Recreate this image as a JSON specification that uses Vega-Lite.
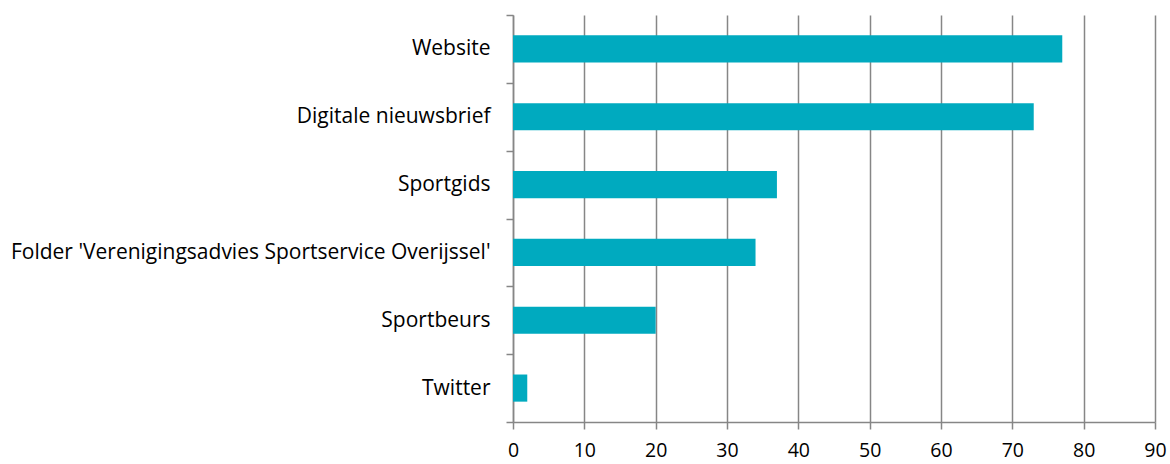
{
  "$schema": "https://vega.github.io/schema/vega-lite/v6.json",
  "autosize": "none",
  "width": 642,
  "height": 407,
  "padding": {"left": 513, "top": 15, "right": 15, "bottom": 42},
  "background": "white",
  "config": {"view": {"stroke": null}, "font": "Open Sans"},
  "data": {
    "values": [
      {"bron": "Website", "waarde": 77},
      {"bron": "Digitale nieuwsbrief", "waarde": 73},
      {"bron": "Sportgids", "waarde": 37},
      {"bron": "Folder 'Verenigingsadvies Sportservice Overijssel'", "waarde": 34},
      {"bron": "Sportbeurs", "waarde": 20},
      {"bron": "Twitter", "waarde": 2}
    ]
  },
  "mark": {"type": "bar", "color": "#00AABF", "height": {"band": 0.4}},
  "encoding": {
    "y": {
      "field": "bron",
      "type": "nominal",
      "sort": null,
      "scale": {"paddingInner": 0, "paddingOuter": 0},
      "axis": {
        "title": null,
        "tickBand": "extent",
        "grid": false,
        "domainColor": "#868686",
        "domainWidth": 1.5,
        "tickColor": "#868686",
        "tickWidth": 1.5,
        "tickSize": 7,
        "labelPadding": 16,
        "labelFont": "Open Sans",
        "labelFontSize": 21,
        "labelColor": "#000000",
        "labelLimit": 600
      }
    },
    "x": {
      "field": "waarde",
      "type": "quantitative",
      "scale": {"domain": [0, 90], "nice": false},
      "axis": {
        "title": null,
        "values": [0, 10, 20, 30, 40, 50, 60, 70, 80, 90],
        "grid": true,
        "gridColor": "#868686",
        "gridWidth": 1.5,
        "gridOpacity": 1,
        "domainColor": "#868686",
        "domainWidth": 1.5,
        "tickColor": "#868686",
        "tickWidth": 1.5,
        "tickSize": 7,
        "labelPadding": 12,
        "labelFont": "Open Sans",
        "labelFontSize": 19.5,
        "labelColor": "#000000",
        "labelFlush": false
      }
    }
  }
}
